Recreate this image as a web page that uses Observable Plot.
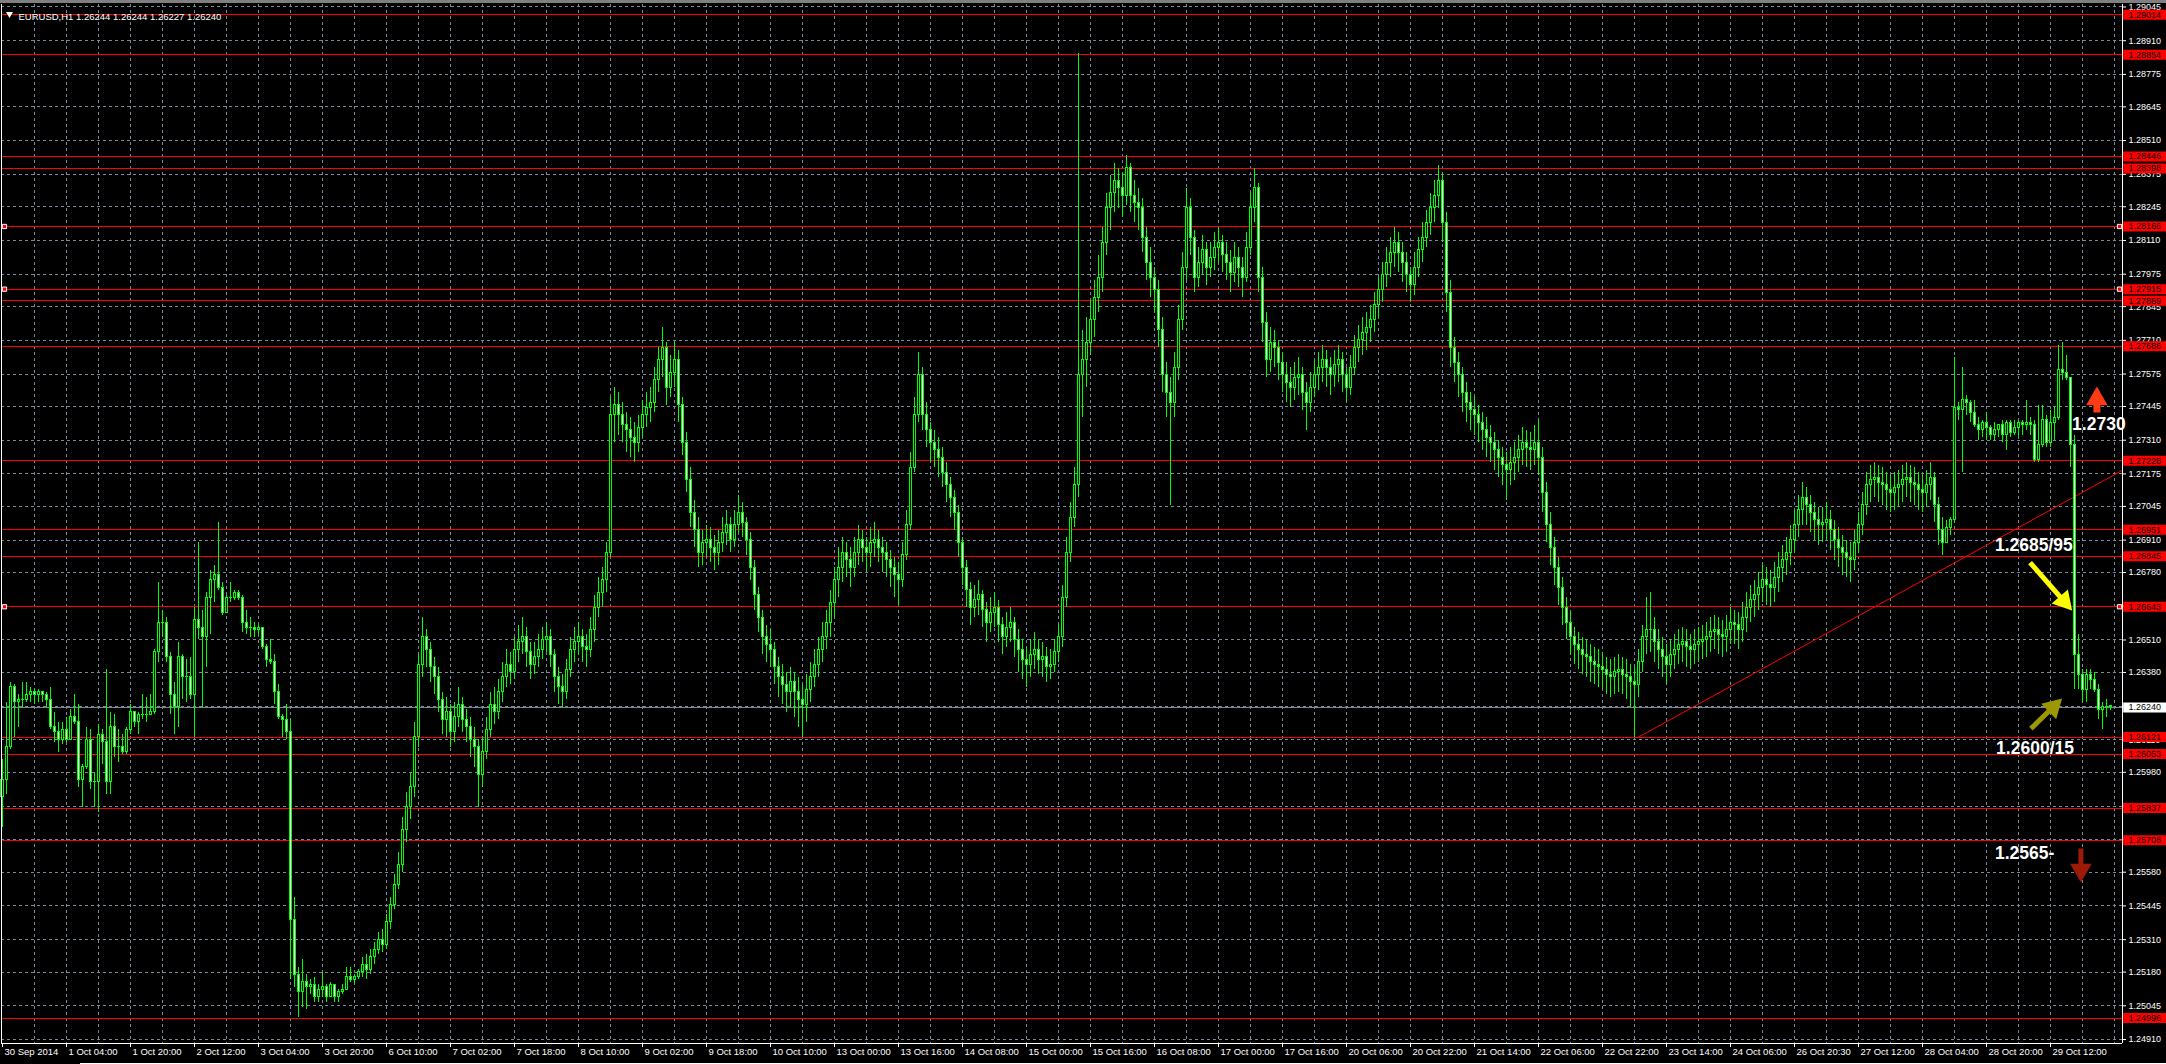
<!DOCTYPE html>
<html><head><meta charset="utf-8">
<script src="https://cdn.jsdelivr.net/npm/d3@7"></script>
<script src="https://cdn.jsdelivr.net/npm/@observablehq/plot@0.6"></script>
<style>
html,body{margin:0;padding:0;background:#000;width:2166px;height:1064px;overflow:hidden;position:relative;}
#topbar{height:3px;background:#808080;}
#chart svg{display:block;}
#bottomline{position:absolute;left:80px;top:1063px;width:2086px;height:1px;background:#fff;}
</style></head><body>
<div id="topbar"></div><div id="chart"></div><div id="bottomline"></div>
<script>
// ---------- DATA ----------
const symbolTitle = "EURUSD,H1 1.26244 1.26244 1.26227 1.26240";
const firstOpen = 1.2588;
const lastOpen = 1.26244;
const close = [
1.2595,1.2608,1.2632,1.2626,1.2627,1.2627,1.2629,1.2630,1.2629,1.2630,
1.2629,1.2627,1.2616,1.2614,1.2611,1.2615,1.2611,1.2620,1.2618,1.2595,
1.2600,1.2611,1.2594,1.2594,1.2613,1.2610,1.2594,1.2616,1.2608,1.2608,
1.2606,1.2615,1.2622,1.2618,1.2621,1.2621,1.2621,1.2622,1.2646,1.2658,
1.2658,1.2644,1.2629,1.2624,1.2644,1.2636,1.2636,1.2629,1.2659,1.2656,
1.2652,1.2668,1.2675,1.2677,1.2672,1.2662,1.2668,1.2668,1.2670,1.2668,
1.2658,1.2656,1.2656,1.2655,1.2656,1.2648,1.2643,1.2642,1.2630,1.2620,
1.2619,1.2614,1.2539,1.2517,1.2510,1.2514,1.2512,1.2513,1.2508,1.2511,
1.2512,1.2508,1.2513,1.2508,1.2510,1.2511,1.2516,1.2515,1.2516,1.2518,
1.2521,1.2519,1.2524,1.2527,1.2531,1.2529,1.2538,1.2545,1.2553,1.2561,
1.2575,1.2584,1.2592,1.2612,1.2641,1.2652,1.2647,1.2640,1.2636,1.2627,
1.2619,1.2622,1.2614,1.2620,1.2625,1.2619,1.2616,1.2611,1.2608,1.2597,
1.2606,1.2615,1.2625,1.2622,1.2630,1.2636,1.2641,1.2638,1.2647,1.2650,
1.2652,1.2646,1.2641,1.2644,1.2647,1.2651,1.2652,1.2645,1.2636,1.2632,
1.2630,1.2639,1.2647,1.2650,1.2652,1.2648,1.2647,1.2655,1.2664,1.2670,
1.2675,1.2686,1.2741,1.2745,1.2741,1.2737,1.2735,1.2732,1.2730,1.2736,
1.2741,1.2744,1.2746,1.2755,1.2763,1.2768,1.2752,1.2758,1.2763,1.2745,
1.2730,1.2715,1.2702,1.2695,1.2686,1.2690,1.2691,1.2688,1.2686,1.2690,
1.2694,1.2697,1.2691,1.2697,1.2702,1.2698,1.2691,1.2680,1.2669,1.2660,
1.2652,1.2649,1.2647,1.2640,1.2636,1.2633,1.2630,1.2634,1.2630,1.2627,
1.2625,1.2631,1.2636,1.2641,1.2647,1.2652,1.2658,1.2666,1.2675,1.2680,
1.2686,1.2683,1.2680,1.2686,1.2691,1.2688,1.2686,1.2690,1.2691,1.2688,
1.2686,1.2683,1.2680,1.2677,1.2675,1.2685,1.2697,1.2720,1.2741,1.2757,
1.2741,1.2735,1.2730,1.2727,1.2724,1.2718,1.2713,1.2708,1.2702,1.2690,
1.2680,1.2671,1.2664,1.2667,1.2669,1.2663,1.2658,1.2662,1.2664,1.2657,
1.2652,1.2656,1.2658,1.2651,1.2647,1.2643,1.2641,1.2645,1.2647,1.2643,
1.2644,1.2640,1.2641,1.2646,1.2652,1.2668,1.2686,1.2700,1.2713,1.2757,
1.2763,1.2770,1.2779,1.2788,1.2796,1.2810,1.2824,1.2830,1.2835,1.2832,
1.2829,1.2840,1.2829,1.2826,1.2824,1.2812,1.2802,1.2796,1.2791,1.2775,
1.2757,1.2750,1.2746,1.2760,1.2779,1.2800,1.2824,1.2812,1.2796,1.2802,
1.2807,1.2800,1.2804,1.2808,1.2810,1.2805,1.2802,1.2798,1.2804,1.2800,
1.2796,1.2808,1.2824,1.2832,1.2796,1.2778,1.2763,1.2770,1.2768,1.2762,
1.2757,1.2754,1.2752,1.2756,1.2757,1.2750,1.2746,1.2752,1.2757,1.2760,
1.2763,1.2760,1.2757,1.2761,1.2763,1.2757,1.2752,1.2760,1.2768,1.2771,
1.2774,1.2776,1.2779,1.2785,1.2791,1.2797,1.2802,1.2806,1.2810,1.2806,
1.2802,1.2797,1.2793,1.2800,1.2807,1.2812,1.2818,1.2824,1.2829,1.2835,
1.2818,1.2790,1.2768,1.2762,1.2757,1.2750,1.2746,1.2743,1.2741,1.2738,
1.2735,1.2732,1.2730,1.2727,1.2724,1.2721,1.2719,1.2722,1.2724,1.2727,
1.2730,1.2728,1.2727,1.2730,1.2724,1.2710,1.2697,1.2688,1.2680,1.2672,
1.2664,1.2658,1.2652,1.2649,1.2647,1.2645,1.2644,1.2642,1.2641,1.2640,
1.2639,1.2637,1.2636,1.2638,1.2639,1.2637,1.2636,1.2634,1.2633,1.2642,
1.2652,1.2655,1.2655,1.2650,1.2647,1.2644,1.2641,1.2645,1.2647,1.2649,
1.2650,1.2648,1.2647,1.2649,1.2650,1.2651,1.2652,1.2654,1.2655,1.2653,
1.2652,1.2655,1.2658,1.2657,1.2655,1.2660,1.2664,1.2667,1.2669,1.2672,
1.2675,1.2673,1.2672,1.2676,1.2680,1.2683,1.2686,1.2691,1.2697,1.2703,
1.2708,1.2705,1.2702,1.2699,1.2697,1.2698,1.2699,1.2695,1.2691,1.2688,
1.2686,1.2684,1.2683,1.2690,1.2697,1.2705,1.2713,1.2715,1.2716,1.2714,
1.2713,1.2711,1.2710,1.2712,1.2713,1.2715,1.2716,1.2714,1.2713,1.2711,
1.2710,1.2713,1.2716,1.2705,1.2695,1.2690,1.2696,1.2699,1.2744,1.2743,
1.2747,1.2746,1.2742,1.2737,1.2735,1.2738,1.2736,1.2733,1.2735,1.2737,
1.2733,1.2738,1.2734,1.2736,1.2738,1.2737,1.2738,1.2737,1.2723,1.2729,
1.2739,1.2730,1.2738,1.2740,1.2759,1.2758,1.2756,1.2729,1.2645,1.2637,
1.2631,1.2637,1.2635,1.2631,1.2623,1.2624,1.2624,1.26240
];
const high = [
1.2603,1.2626,1.2634,1.2633,1.2629,1.2634,1.2634,1.2632,1.2631,1.2631,
1.2630,1.2630,1.2632,1.2622,1.2618,1.2618,1.2620,1.2623,1.2629,1.2625,
1.2601,1.2616,1.2615,1.2598,1.2617,1.2615,1.2639,1.2622,1.2621,1.2615,
1.2613,1.2616,1.2625,1.2621,1.2622,1.2629,1.2628,1.2629,1.2647,1.2674,
1.2663,1.2660,1.2646,1.2634,1.2650,1.2645,1.2643,1.2644,1.2664,1.2690,
1.2663,1.2670,1.2679,1.2681,1.2698,1.2674,1.2669,1.2674,1.2671,1.2671,
1.2669,1.2663,1.2660,1.2658,1.2657,1.2656,1.2649,1.2651,1.2645,1.2633,
1.2621,1.2625,1.2619,1.2548,1.2520,1.2523,1.2517,1.2515,1.2516,1.2513,
1.2518,1.2513,1.2514,1.2513,1.2511,1.2513,1.2520,1.2520,1.2517,1.2519,
1.2524,1.2525,1.2527,1.2530,1.2534,1.2535,1.2541,1.2548,1.2557,1.2566,
1.2580,1.2590,1.2598,1.2618,1.2645,1.2660,1.2655,1.2650,1.2644,1.2640,
1.2630,1.2628,1.2625,1.2626,1.2632,1.2628,1.2623,1.2620,1.2616,1.2611,
1.2612,1.2620,1.2630,1.2632,1.2635,1.2642,1.2647,1.2646,1.2652,1.2657,
1.2660,1.2656,1.2650,1.2650,1.2653,1.2656,1.2658,1.2655,1.2647,1.2640,
1.2637,1.2643,1.2652,1.2656,1.2658,1.2655,1.2653,1.2660,1.2669,1.2676,
1.2680,1.2690,1.2748,1.2752,1.2750,1.2746,1.2742,1.2740,1.2738,1.2741,
1.2747,1.2750,1.2752,1.2760,1.2768,1.2776,1.2770,1.2765,1.2770,1.2767,
1.2748,1.2734,1.2720,1.2707,1.2700,1.2695,1.2697,1.2696,1.2693,1.2695,
1.2700,1.2703,1.2700,1.2703,1.2709,1.2706,1.2700,1.2694,1.2683,1.2672,
1.2663,1.2657,1.2655,1.2650,1.2644,1.2641,1.2638,1.2640,1.2638,1.2636,
1.2633,1.2637,1.2642,1.2647,1.2652,1.2658,1.2663,1.2671,1.2680,1.2688,
1.2692,1.2690,1.2688,1.2692,1.2697,1.2695,1.2692,1.2696,1.2698,1.2695,
1.2692,1.2690,1.2687,1.2684,1.2682,1.2690,1.2703,1.2726,1.2748,1.2766,
1.2760,1.2746,1.2738,1.2735,1.2732,1.2728,1.2722,1.2716,1.2711,1.2705,
1.2692,1.2683,1.2674,1.2673,1.2675,1.2671,1.2666,1.2668,1.2670,1.2667,
1.2660,1.2662,1.2664,1.2660,1.2655,1.2651,1.2648,1.2651,1.2654,1.2651,
1.2650,1.2648,1.2647,1.2651,1.2657,1.2673,1.2692,1.2706,1.2720,1.2886,
1.2775,1.2780,1.2787,1.2795,1.2805,1.2816,1.2830,1.2837,1.2842,1.2840,
1.2838,1.2845,1.2842,1.2835,1.2832,1.2828,1.2816,1.2808,1.2800,1.2795,
1.2780,1.2762,1.2756,1.2766,1.2785,1.2806,1.2832,1.2828,1.2815,1.2808,
1.2813,1.2810,1.2810,1.2814,1.2816,1.2813,1.2810,1.2807,1.2810,1.2808,
1.2804,1.2814,1.2830,1.2840,1.2834,1.2800,1.2782,1.2776,1.2775,1.2771,
1.2766,1.2762,1.2760,1.2762,1.2764,1.2760,1.2754,1.2758,1.2763,1.2766,
1.2769,1.2767,1.2764,1.2767,1.2769,1.2766,1.2760,1.2765,1.2773,1.2777,
1.2780,1.2782,1.2785,1.2790,1.2796,1.2802,1.2808,1.2812,1.2816,1.2814,
1.2810,1.2806,1.2800,1.2806,1.2812,1.2818,1.2823,1.2830,1.2835,1.2841,
1.2838,1.2822,1.2795,1.2772,1.2766,1.2760,1.2754,1.2750,1.2748,1.2745,
1.2742,1.2740,1.2737,1.2734,1.2731,1.2728,1.2726,1.2728,1.2730,1.2733,
1.2736,1.2735,1.2734,1.2737,1.2739,1.2728,1.2714,1.2702,1.2692,1.2684,
1.2676,1.2668,1.2662,1.2656,1.2654,1.2652,1.2651,1.2649,1.2648,1.2647,
1.2646,1.2644,1.2643,1.2644,1.2645,1.2644,1.2643,1.2641,1.2640,1.2647,
1.2657,1.2668,1.2670,1.2660,1.2655,1.2652,1.2649,1.2651,1.2653,1.2655,
1.2656,1.2655,1.2653,1.2655,1.2656,1.2657,1.2658,1.2660,1.2661,1.2660,
1.2659,1.2661,1.2664,1.2663,1.2662,1.2666,1.2670,1.2673,1.2675,1.2678,
1.2681,1.2680,1.2679,1.2682,1.2686,1.2689,1.2692,1.2697,1.2703,1.2709,
1.2714,1.2712,1.2709,1.2706,1.2704,1.2704,1.2706,1.2703,1.2699,1.2696,
1.2693,1.2691,1.2690,1.2695,1.2702,1.2710,1.2718,1.2721,1.2722,1.2721,
1.2720,1.2718,1.2717,1.2718,1.2719,1.2721,1.2722,1.2721,1.2720,1.2718,
1.2717,1.2719,1.2722,1.2718,1.2708,1.2700,1.2699,1.2700,1.2764,1.2746,
1.2760,1.2749,1.2747,1.2747,1.2740,1.2739,1.2742,1.2737,1.2738,1.2737,
1.2739,1.2739,1.2739,1.2739,1.2739,1.2739,1.2747,1.2740,1.2739,1.2745,
1.2745,1.2741,1.2743,1.2744,1.2769,1.2770,1.2765,1.2756,1.2733,1.2653,
1.2639,1.2639,1.2639,1.2638,1.2633,1.2626,1.2627,1.26244
];
const low = [
1.2576,1.2589,1.2607,1.2612,1.2616,1.2624,1.2626,1.2626,1.2625,1.2626,
1.2626,1.2624,1.2615,1.2610,1.2606,1.2609,1.2610,1.2611,1.2617,1.2592,
1.2584,1.2599,1.2591,1.2584,1.2582,1.2601,1.2589,1.2589,1.2604,1.2602,
1.2605,1.2605,1.2613,1.2616,1.2613,1.2619,1.2618,1.2621,1.2621,1.2642,
1.2652,1.2642,1.2621,1.2613,1.2616,1.2627,1.2626,1.2627,1.2612,1.2651,
1.2624,1.2640,1.2653,1.2666,1.2671,1.2661,1.2662,1.2666,1.2667,1.2667,
1.2654,1.2653,1.2652,1.2652,1.2653,1.2647,1.2640,1.2641,1.2625,1.2619,
1.2612,1.2611,1.2515,1.2512,1.2500,1.2504,1.2503,1.2509,1.2506,1.2506,
1.2508,1.2506,1.2508,1.2506,1.2506,1.2509,1.2511,1.2514,1.2513,1.2515,
1.2516,1.2515,1.2517,1.2521,1.2525,1.2526,1.2527,1.2535,1.2543,1.2551,
1.2558,1.2570,1.2579,1.2588,1.2608,1.2636,1.2640,1.2634,1.2629,1.2622,
1.2613,1.2612,1.2608,1.2610,1.2616,1.2614,1.2610,1.2604,1.2600,1.2584,
1.2592,1.2603,1.2612,1.2617,1.2619,1.2626,1.2632,1.2633,1.2635,1.2642,
1.2645,1.2640,1.2635,1.2637,1.2640,1.2643,1.2646,1.2640,1.2630,1.2625,
1.2624,1.2627,1.2636,1.2642,1.2645,1.2642,1.2640,1.2644,1.2650,1.2660,
1.2664,1.2670,1.2684,1.2730,1.2733,1.2730,1.2726,1.2724,1.2722,1.2726,
1.2732,1.2736,1.2738,1.2742,1.2750,1.2756,1.2745,1.2748,1.2752,1.2738,
1.2725,1.2710,1.2696,1.2688,1.2680,1.2681,1.2684,1.2682,1.2679,1.2681,
1.2686,1.2689,1.2686,1.2688,1.2694,1.2692,1.2685,1.2675,1.2663,1.2654,
1.2645,1.2642,1.2640,1.2633,1.2628,1.2625,1.2622,1.2624,1.2620,1.2616,
1.2612,1.2618,1.2626,1.2632,1.2636,1.2642,1.2647,1.2652,1.2660,1.2668,
1.2674,1.2676,1.2672,1.2676,1.2681,1.2682,1.2678,1.2680,1.2684,1.2682,
1.2678,1.2676,1.2672,1.2668,1.2665,1.2672,1.2683,1.2695,1.2718,1.2738,
1.2735,1.2728,1.2722,1.2720,1.2716,1.2712,1.2706,1.2700,1.2695,1.2684,
1.2673,1.2664,1.2657,1.2660,1.2661,1.2656,1.2650,1.2654,1.2656,1.2650,
1.2645,1.2648,1.2650,1.2644,1.2638,1.2635,1.2632,1.2636,1.2639,1.2637,
1.2636,1.2634,1.2635,1.2638,1.2642,1.2648,1.2664,1.2682,1.2696,1.2708,
1.2740,1.2752,1.2765,1.2772,1.2782,1.2790,1.2805,1.2815,1.2822,1.2824,
1.2820,1.2825,1.2822,1.2818,1.2815,1.2806,1.2795,1.2788,1.2782,1.2768,
1.2750,1.2740,1.2705,1.2740,1.2755,1.2775,1.2795,1.2805,1.2790,1.2792,
1.2797,1.2793,1.2796,1.2799,1.2802,1.2798,1.2795,1.2790,1.2794,1.2792,
1.2788,1.2794,1.2805,1.2818,1.2790,1.2770,1.2756,1.2758,1.2760,1.2755,
1.2750,1.2746,1.2744,1.2747,1.2749,1.2743,1.2735,1.2742,1.2748,1.2751,
1.2754,1.2752,1.2749,1.2752,1.2754,1.2750,1.2746,1.2749,1.2757,1.2762,
1.2765,1.2767,1.2770,1.2774,1.2780,1.2786,1.2792,1.2796,1.2800,1.2798,
1.2794,1.2790,1.2786,1.2789,1.2796,1.2802,1.2808,1.2813,1.2818,1.2824,
1.2810,1.2782,1.2760,1.2754,1.2748,1.2742,1.2738,1.2735,1.2733,1.2730,
1.2727,1.2724,1.2722,1.2719,1.2716,1.2713,1.2707,1.2713,1.2715,1.2718,
1.2721,1.2720,1.2719,1.2721,1.2717,1.2702,1.2690,1.2681,1.2673,1.2665,
1.2657,1.2651,1.2645,1.2641,1.2639,1.2637,1.2636,1.2634,1.2633,1.2632,
1.2631,1.2629,1.2628,1.2629,1.2630,1.2629,1.2627,1.2624,1.2612,1.2628,
1.2638,1.2645,1.2646,1.2642,1.2639,1.2636,1.2633,1.2636,1.2639,1.2641,
1.2642,1.2640,1.2639,1.2641,1.2642,1.2643,1.2644,1.2646,1.2647,1.2645,
1.2644,1.2646,1.2649,1.2649,1.2647,1.2650,1.2654,1.2658,1.2660,1.2663,
1.2666,1.2665,1.2664,1.2666,1.2670,1.2674,1.2677,1.2681,1.2686,1.2692,
1.2697,1.2697,1.2694,1.2691,1.2689,1.2690,1.2691,1.2687,1.2683,1.2680,
1.2677,1.2676,1.2674,1.2679,1.2686,1.2693,1.2701,1.2706,1.2708,1.2706,
1.2705,1.2703,1.2702,1.2703,1.2704,1.2706,1.2708,1.2706,1.2705,1.2703,
1.2702,1.2704,1.2707,1.2698,1.2689,1.2685,1.2690,1.2693,1.2698,1.2739,
1.2718,1.2741,1.2738,1.2736,1.2731,1.2732,1.2731,1.2731,1.2731,1.2732,
1.2730,1.2727,1.2732,1.2733,1.2732,1.2733,1.2735,1.2733,1.2722,1.2722,
1.2728,1.2728,1.2728,1.2731,1.2739,1.2755,1.2755,1.2720,1.2631,1.2631,
1.2626,1.2626,1.2631,1.2630,1.2619,1.2615,1.2620,1.26227
];
const timeLabels = ["30 Sep 2014","1 Oct 04:00","1 Oct 20:00","2 Oct 12:00","3 Oct 04:00","3 Oct 20:00","6 Oct 10:00","7 Oct 02:00","7 Oct 18:00","8 Oct 10:00","9 Oct 02:00","9 Oct 18:00","10 Oct 10:00","13 Oct 00:00","13 Oct 16:00","14 Oct 08:00","15 Oct 00:00","15 Oct 16:00","16 Oct 08:00","17 Oct 00:00","17 Oct 16:00","20 Oct 06:00","20 Oct 22:00","21 Oct 14:00","22 Oct 06:00","22 Oct 22:00","23 Oct 14:00","24 Oct 06:00","26 Oct 20:30","27 Oct 12:00","28 Oct 04:00","28 Oct 20:00","29 Oct 12:00"];
const barsPerLabel = 16;
const barsPerGrid = 8;
const priceTickLabels = ["1.29045","1.28910","1.28775","1.28645","1.28510","1.28375","1.28245","1.28110","1.27975","1.27845","1.27710","1.27575","1.27445","1.27310","1.27175","1.27045","1.26910","1.26780","1.26645","1.26510","1.26380","1.26245","1.26110","1.25980","1.25845","1.25710","1.25580","1.25445","1.25310","1.25180","1.25045","1.24910"];
const levels = [1.29014,1.28854,1.28446,1.28398,1.28166,1.27915,1.27869,1.27686,1.27228,1.26951,1.26845,1.26643,1.26121,1.26053,1.25837,1.25708,1.24996];
const handleLevels = [1.28166,1.27915,1.26643];
const lastPrice = 1.26240;
const trend = [{bar: 408.9, price: 1.2612}, {bar: 530, price: 1.2719}];
const notes = [
  {bar: 517.4, price: 1.27373, text: "1.2730"},
  {bar: 498.1, price: 1.26890, text: "1.2685/95"},
  {bar: 498.4, price: 1.26075, text: "1.2600/15"},
  {bar: 498.1, price: 1.25655, text: "1.2565-"}
];
const arrowsData = [
  {x1: 506.9, y1: 1.26820, x2: 517.4, y2: 1.26628, color: "#ffff00", w: 5},
  {x1: 507.1, y1: 1.26155, x2: 514.9, y2: 1.26276, color: "#9c9800", w: 5},
  {x1: 523.6, y1: 1.27421, x2: 523.6, y2: 1.27525, color: "#ff3b14", w: 7},
  {x1: 519.6, y1: 1.25675, x2: 519.6, y2: 1.25539, color: "#9e1a08", w: 5}
];

// ---------- LAYOUT ----------
const W = 2166, H = 1061;
const mL = 1, mR = 44, mT = 1, mB = 21;
const xDomain = [-0.25, 530];
const yDomain = [1.24894, 1.29055];
const pxPerBar = (W - mL - mR) / (xDomain[1] - xDomain[0]);
const pxPerPrice = (H - mT - mB) / (yDomain[1] - yDomain[0]);
const lime = "#00ff00", gridColor = "#778899", red = "#ff0000";
const font = "'Liberation Sans', Arial, sans-serif";

const N = Math.min(close.length, high.length, low.length);
const bars = d3.range(N).map(i => {
  const o = i === 0 ? firstOpen : (i === N - 1 ? lastOpen : close[i - 1]);
  const c = close[i];
  return {i, o, c, h: Math.max(high[i], o, c), l: Math.min(low[i], o, c)};
});
const bodyPx = d => Math.abs(d.o - d.c) * pxPerPrice;

const xLabels = timeLabels.map((t, k) => ({bar: k * barsPerLabel, label: t}));
const gridBars = d3.range(barsPerGrid, N + 1, barsPerGrid);
const tickVals = priceTickLabels.map(Number);

const headR = 8;
const heads = arrowsData.map(a => {
  const dx = (a.x2 - a.x1) * pxPerBar, dy = -(a.y2 - a.y1) * pxPerPrice;
  const len = Math.hypot(dx, dy), ux = dx / len, uy = dy / len;
  const back = 1.555 * headR;
  return {...a, cx: a.x2 - ux * back / pxPerBar, cy: a.y2 + uy * back / pxPerPrice,
          rot: Math.atan2(dx, -dy) * 180 / Math.PI};
});

const txt = {fontFamily: font, fontSize: 9};

const chart = Plot.plot({
  width: W, height: H,
  marginLeft: mL, marginRight: mR, marginTop: mT, marginBottom: mB,
  x: {type: "linear", domain: xDomain, axis: null},
  y: {type: "linear", domain: yDomain, axis: null},
  style: {background: "#000", color: "#fff", fontFamily: font, overflow: "visible"},
  marks: [
    // grid
    Plot.ruleY(tickVals, {stroke: gridColor, strokeDasharray: "3,3", shapeRendering: "crispEdges"}),
    Plot.ruleX(gridBars, {stroke: gridColor, strokeDasharray: "3,3", shapeRendering: "crispEdges"}),
    // horizontal levels
    Plot.ruleY(levels, {stroke: red, shapeRendering: "crispEdges"}),
    Plot.ruleY([lastPrice], {stroke: gridColor, shapeRendering: "crispEdges"}),
    // trend line
    Plot.line(trend, {x: "bar", y: "price", stroke: red, strokeWidth: 1}),
    // candles
    Plot.ruleX(bars, {x: "i", y1: "l", y2: "h", stroke: lime, shapeRendering: "crispEdges"}),
    Plot.rect(bars, {x1: d => d.i - 0.375, x2: d => d.i + 0.375, y1: "o", y2: "c",
      insetTop: -0.5, insetBottom: -0.5, fill: lime, shapeRendering: "crispEdges"}),
    Plot.rect(bars.filter(d => bodyPx(d) > 1.5), {x1: d => d.i - 0.125, x2: d => d.i + 0.125, y1: "o", y2: "c",
      insetTop: 0.5, insetBottom: 0.5, fill: d => d.c < d.o ? "#ffffff" : "#000000", shapeRendering: "crispEdges"}),
    // handles of horizontal lines
    Plot.dot(handleLevels, {y: d => d, frameAnchor: "right", dx: -3, symbol: "square", r: 2.4, fill: red, stroke: "#fff", strokeWidth: 1}),
    Plot.dot(handleLevels, {y: d => d, frameAnchor: "left", dx: 3, symbol: "square", r: 2.4, fill: red, stroke: "#fff", strokeWidth: 1}),
    // frame (left, right, bottom)
    Plot.ruleX([xDomain[0], xDomain[1]], {stroke: "#fff", shapeRendering: "crispEdges"}),
    Plot.ruleY([yDomain[0]], {stroke: "#fff", shapeRendering: "crispEdges"}),
    // price axis
    Plot.ruleY(tickVals, {x1: xDomain[1], x2: xDomain[1] + 1, stroke: "#fff"}),
    Plot.text(priceTickLabels, {y: d => +d, text: d => d, frameAnchor: "right", dx: 6, textAnchor: "start", fill: "#fff", ...txt}),
    Plot.ruleY(levels, {x1: xDomain[1] + 0.3, x2: xDomain[1] + 12, stroke: red, strokeWidth: 10}),
    Plot.text(levels, {y: d => d, text: d => d.toFixed(5), frameAnchor: "right", dx: 6, textAnchor: "start", fill: "#000", ...txt}),
    Plot.ruleY([lastPrice], {x1: xDomain[1] + 0.3, x2: xDomain[1] + 12, stroke: "#fff", strokeWidth: 10}),
    Plot.text([lastPrice], {y: d => d, text: d => d.toFixed(5), frameAnchor: "right", dx: 6, textAnchor: "start", fill: "#000", ...txt}),
    // time axis
    Plot.ruleX(xLabels, {x: "bar", y1: yDomain[0], y2: yDomain[0] - 4 / pxPerPrice, stroke: "#fff"}),
    Plot.text(xLabels, {x: "bar", text: "label", frameAnchor: "bottom", dy: 11, dx: 2, textAnchor: "start", fill: "#fff", fontFamily: font, fontSize: 9.5}),
    // title
    Plot.dot([symbolTitle], {frameAnchor: "top-left", dx: 8, dy: 9.5, symbol: "triangle", r: 2.6, rotate: 180, fill: "#fff"}),
    Plot.text([symbolTitle], {text: d => d, frameAnchor: "top-left", dx: 17, dy: 9, textAnchor: "start", fill: "#fff", fontFamily: font, fontSize: 9.5}),
    // annotations
    Plot.link(heads, {x1: "x1", y1: "y1", x2: "cx", y2: "cy", stroke: "color", strokeWidth: "w"}),
    Plot.dot(heads, {x: "cx", y: "cy", symbol: "triangle", r: headR, rotate: "rot", fill: "color", stroke: "none"}),
    Plot.text(notes, {x: "bar", y: "price", text: "text", textAnchor: "start", fill: "#fff",
      fontFamily: font, fontSize: 17.5, fontWeight: "bold"})
  ]
});
document.getElementById("chart").appendChild(chart);
</script></body></html>
